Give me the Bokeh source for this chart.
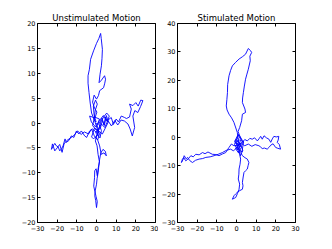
from bokeh.plotting import figure
from bokeh.layouts import row
from bokeh.models import FixedTicker, LinearAxis, Range1d, CustomJSTickFormatter
from bokeh.embed import file_html
from bokeh.resources import INLINE

titles = ["Unstimulated Motion", "Stimulated Motion"]

x_ticks = [-30, -20, -10, 0, 10, 20, 30]
x_tick_labels = ["\u221230", "\u221220", "\u221210", "0", "10", "20", "30"]
y_ticks_1 = [-20, -15, -10, -5, 0, 5, 10, 15, 20]
y_tick_labels_1 = ["\u221220", "\u221215", "\u221210", "\u22125", "0", "5", "10", "15", "20"]
y_ticks_2 = [-30, -20, -10, 0, 10, 20, 30, 40]
y_tick_labels_2 = ["\u221230", "\u221220", "\u221210", "0", "10", "20", "30", "40"]

# Unstimulated trajectory
unstim_x = [0, 0.5, 1.5, -1, -2, 0, 1, -0.5, 2, 3, 4, 5, 6, 4.5, 3, 1,
            -1, -2.5, -1.5, 0.5, 1.8, 2.5, 1.2, 2.8, 3.8, 4.6, 5.5, 6.5, 5.2, 3.6, 2.2, 0.8,
            -0.4, 0.6, 1.5, 0.2, -1.2, -0.6, 0.4, -0.5, -1.6, -1.2, -0.2,
            -1, -2.5, -3.2, -3.8, -4.3, -4.3, -3.6, -3, -1.5, 0, 1.2, 2.1, 2.4, 3, 2.8, 2.5, 1.8, 1.3,
            2.5, 4.1, 4.6, 4.2, 3.6, 1.6, 1.0, 0, -1.2, -2, -1, 0.2, -0.8, -3.5, -2.6, -0.5,
            1.5, 3.5, 5.2, 7.5, 8.6, 10, 11.2, 12.6, 14.3, 15.2, 16.8, 17.7, 16.8, 18.5, 20, 21.2,
            22.5, 23.6, 22.4, 21, 19.5, 18.5, 19.4, 18.2, 17.1, 16, 14.2, 12.5, 10.8, 9.3, 7.6, 5.8,
            4.2, 2.5, 1,
            0, -2, -3.5, -5, -6, -7.7, -9, -10.2, -11.5, -12.8, -14, -15.3, -16, -17, -17.8, -18.7,
            -19.5, -20.4, -21.2, -22, -22.9, -22.4, -21.2, -20, -18.7, -17.5, -16.5, -15, -13.2,
            -11.5, -9.6, -7.8, -6.2, -4, -2.5, -1, 0.5,
            1.6, 2.4, 3.8, 5, 4.5, 3.3, 2.2, 1.6, 1.2, 0.8, 0.3, 0, -0.6, -0.9, -0.4, 0, 0.4, -0.2,
            -0.8, -1.4, -1.0, -0.9, -0.2, 0.4, 0.9, 1.5, 0.8, 0.3, -0.6, 0.2, 1.2, 0.4]
unstim_y = [0, -0.5, 0.8, 1.2, -0.5, -1.5, -2.5, -2, -1, 0.5, -0.5, 1.5, 0.2, -1, -2.2, -1.6,
            -1, -2.8, -3.2, -2.4, -3.0, -1.5, -0.2, 1.0, -0.4, 1.2, 0.3, 1.4, 2.0, 1.2, 0.2, -1.8,
            -3.0, -3.4, -2.2, -1.0, 0.8, 2.6, 3.8, 4.6, 3.4, 1.6, 0.2,
            0.5, 2, 4, 6.1, 8, 9.5, 10.8, 12.8, 14.5, 16, 17, 18, 17, 14.8, 13, 11.5, 9.8, 8.1,
            8.6, 9.5, 8.8, 8.0, 7.1, 6.5, 5.5, 4.8, 5.6, 4.2, 3, 2.2, 1.0, 1.4, 0.2, -0.8,
            0.5, 1.5, 0.4, 1.1, -0.3, 0.8, 0.2, 1.4, 1.1, 0.9, 1.2, 2.8, 3.8, 3.5, 4.1, 3.4,
            4.6, 4.5, 3.3, 2.1, 2.5, 1.4, -0.9, -2.6, -1.2, -0.2, 0.4, 0.6, -0.4, 0.5, -0.6, 0.5,
            -0.9, -0.2, -1.2,
            -1.9, -1.2, -1.6, -2.9, -2.6, -1.6, -2.2, -1.6, -2.9, -2.6, -3.5, -3.9, -3.2, -4.6, -5.2, -5.6,
            -4.8, -4.6, -4.1, -4.6, -5.3, -4.2, -5.6, -5.0, -4.3, -5.9, -4.2, -3.5, -3.0,
            -2.5, -1.6, -2.3, -1.8, -2.2, -1.2, -2.7, -3.3,
            -4.6, -6.3, -6.0, -6.6, -5.7, -5.3, -6.0, -7.3, -8.6, -10, -11.2, -12.3, -13.5, -14.6, -15.6, -17, -15.8, -14.8,
            -13.8, -12.7, -11.0, -9.6, -9.2, -10.6, -9.0, -7.8, -6.3, -4.6, -3.6, -2.5, -1.8, -0.6]

# Stimulated trajectory
stim_x = [0, 1.5, -0.5, 2, 0.5, -1, 1, 2.5, 3.5, 1.5, -0.5,
          0.5, 2.5, 1, -0.5, 1.8, 3.2, 2, 0.6, -1, 0.8, 2.2, 1.2, 3.6, 2.8, 1.5, 0.4,
          -1.3, -2.5, -3.8, -4.8, -5.2, -4.9, -4.6, -4.5, -3.8, -3.0, -2.1, -0.5, 1.3, 3, 4.6, 6, 7.2,
          7.7, 6.8, 7.0, 6, 5.3, 4.6, 4.0, 3.5, 3.1, 3, 4.3, 4.6, 3, 2.6, 1.6, 0.8, 1.8, 3,
          4.2, 5.5, 6.8, 8, 9.2, 10.6, 11.5, 12.3, 13.1, 14, 15.2, 16.5, 17.4, 18.2, 19, 20.2, 21.5,
          21.2, 20.7, 21.8, 22.4, 21, 19.9, 18.6, 17.4, 16.5, 15.6, 14.2, 13.1, 12.2, 11.4, 9.5, 7.8,
          6, 4.2, 2.5, 0.8,
          -1.3, -2.6, -3.8, -4.6, -5.5, -7.2, -8.9, -10.5, -12.3, -14.5, -16, -17.3, -19, -20.7, -22,
          -23.2, -24.5, -25.8, -26.8, -27.5, -28, -27.2, -26.6, -25.6, -24.9, -23.8, -22.4, -20.8, -19,
          -17.2, -15.6, -13.4, -11.4, -9.3, -7.2, -5.1, -3, -1.5, 0.2,
          1.3, 2.2, 3, 4.3, 5.5, 6.3, 5.9, 5.5, 4.6, 3.8, 3.4, 3, 3.3, 3, 1.6, 0.4, -0.5, -1.3, -2.1,
          -1.2, -0.4, 0.5, 1.3, 1.6, 0.9, 1.2, 1.3, 1.8, 2.1, 1.6, 0.8, 0]
stim_y = [0, -1, -2, -3, -4.5, -2.5, 1, -0.5, -2, -3.5, -1,
          -1, -3.5, -5.5, -4, -2, -4.6, -6.5, -3, -1.5, 0.8, -0.8, -2.6, -1.4, -5.2, -4.2, 1.7,
          5.2, 6.8, 8.1, 9.6, 11, 13.2, 15.7, 18.5, 21.6, 23.5, 25.1, 26.3, 27.5, 28.3, 29.2, 31.2, 30.4,
          29.8, 28.5, 26.9, 23.9, 22.2, 20.4, 18, 15.7, 13.8, 12.2, 9.9, 8.7, 8.1, 5.8, 3.4, 2.0, 0.2, -1.8,
          -0.8, -1.3, -0.4, -0.7, -0.2, -1.3, -0.5, 0.3, -0.7, 0.5, -0.2, -0.7, -1.8, -0.6, 0.3, 0.1, 0.3,
          -1, -1.8, -2.6, -4.2, -3.9, -3.6, -2.3, -2.8, -3.6, -4.2, -3.8, -4, -3.4, -3.0, -2.6, -3.2,
          -2.4, -3.0, -2.2, -2.8,
          -3, -2.4, -3.6, -4.4, -5.4, -5.9, -6.5, -6.1, -6, -5.2, -5.8, -5.4, -6.2, -6, -6.9,
          -6.5, -7.6, -8.3, -7.2, -7.7, -8.9, -7.9, -6.5, -7.6, -7.1, -8.2, -8.9, -8.1, -7.7,
          -7.5, -7.1, -6.9, -6.5, -6.0, -5.4, -4.6, -4.2, -4.8, -3.6,
          -4.2, -5.4, -6.5, -7.2, -7.7, -8.9, -10, -11.2, -11.8, -12.4, -14, -15.9, -17.1, -18.3, -18.8, -19.4, -20, -20.6, -21.8,
          -21.5, -21.2, -19.8, -18.3, -16.5, -14.7, -13, -11.2, -9.5, -7.7, -6, -4.6, -2]

FONT = "DejaVu Sans"
LINE = "#0000ff"


def style_axis(ax, ticks):
    ax.ticker = FixedTicker(ticks=ticks)
    ax.major_tick_in = 3
    ax.major_tick_out = 0
    ax.major_tick_line_color = "black"
    ax.minor_tick_line_color = None
    ax.axis_line_color = None


def make(title, xs, ys, yr, yt, ytl, left, right):
    p = figure(width=158, height=240, output_backend="svg", toolbar_location=None,
               x_range=Range1d(-30, 30), y_range=Range1d(*yr),
               min_border_left=left, min_border_right=right,
               min_border_top=23, min_border_bottom=18)
    p.title.text = title
    p.title.align = "center"
    p.title.text_font = FONT
    p.title.text_font_size = "8.5px"
    p.title.text_font_style = "normal"
    p.title.text_color = "black"
    p.title.standoff = 1
    p.title.offset = 0
    p.grid.visible = False
    p.outline_line_color = "black"
    p.outline_line_width = 1
    p.background_fill_color = "white"
    p.border_fill_color = "white"
    p.line(xs, ys, line_color=LINE, line_width=0.9)

    for ax, ticks, labels in ((p.xaxis[0], x_ticks, x_tick_labels), (p.yaxis[0], yt, ytl)):
        style_axis(ax, ticks)
        ax.major_label_overrides = {t: l for t, l in zip(ticks, labels)}
        ax.major_label_text_font = FONT
        ax.major_label_text_font_size = "6.5px"
        ax.major_label_text_color = "black"
        ax.major_label_standoff = 2
    p.xaxis[0].major_label_standoff = 3

    top = LinearAxis(formatter=CustomJSTickFormatter(code="return ''"), major_label_standoff=0,
                     major_label_text_font_size="1px")
    style_axis(top, x_ticks)
    rgt = LinearAxis(formatter=CustomJSTickFormatter(code="return ''"), major_label_standoff=0,
                     major_label_text_font_size="1px")
    style_axis(rgt, yt)
    p.add_layout(top, "above")
    p.add_layout(rgt, "right")
    return p


p1 = make(titles[0], unstim_x, unstim_y, (-20, 20), y_ticks_1, y_tick_labels_1, 37, 3)
p2 = make(titles[1], stim_x, stim_y, (-30, 40), y_ticks_2, y_tick_labels_2, 19, 21)

layout = row(p1, p2, spacing=0)
open("out.html", "w").write(file_html(layout, INLINE))
